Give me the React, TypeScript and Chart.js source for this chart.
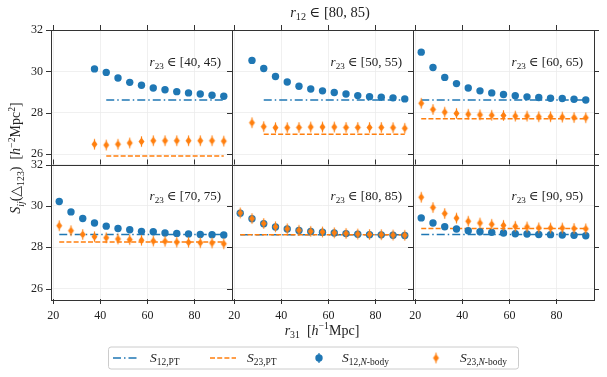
import { useEffect, useRef } from "react";
import { Chart, registerables } from "chart.js";

Chart.register(...registerables);

// ---------- data ----------
const r31Bins = [22.5, 27.5, 32.5, 37.5, 42.5, 47.5, 52.5, 57.5, 62.5, 67.5, 72.5, 77.5, 82.5, 87.5, 92.5];
const xTicks = [20, 40, 60, 80];
const yTicks = [26, 28, 30, 32];
const r12Bin = "[80, 85)";
const r23Bins = ["[40, 45)", "[50, 55)", "[60, 65)", "[70, 75)", "[80, 85)", "[90, 95)"];

const s12Nbody_40 = [30.12, 29.95, 29.68, 29.47, 29.33, 29.2, 29.11, 29.02, 28.96, 28.91, 28.85, 28.8];
const s23Nbody_40 = [26.48, 26.44, 26.48, 26.54, 26.61, 26.65, 26.65, 26.65, 26.65, 26.65, 26.65, 26.63];
const s12Nbody_50 = [30.53, 30.14, 29.75, 29.49, 29.28, 29.15, 29.06, 28.98, 28.91, 28.83, 28.78, 28.75, 28.72, 28.67];
const s23Nbody_50 = [27.52, 27.33, 27.28, 27.28, 27.29, 27.31, 27.31, 27.31, 27.29, 27.29, 27.29, 27.29, 27.28, 27.25];
const s12Nbody_60 = [30.93, 30.19, 29.71, 29.41, 29.2, 29.06, 28.96, 28.88, 28.82, 28.77, 28.74, 28.7, 28.69, 28.65, 28.62];
const s23Nbody_60 = [28.46, 28.16, 28.03, 27.97, 27.93, 27.9, 27.88, 27.87, 27.84, 27.84, 27.81, 27.81, 27.79, 27.77, 27.76];
const s12Nbody_70 = [30.21, 29.71, 29.39, 29.17, 29.02, 28.91, 28.85, 28.77, 28.75, 28.69, 28.67, 28.64, 28.62, 28.61, 28.59];
const s23Nbody_70 = [29.04, 28.8, 28.62, 28.51, 28.46, 28.4, 28.37, 28.34, 28.3, 28.29, 28.25, 28.24, 28.22, 28.21, 28.17];
const s12Nbody_80 = [29.65, 29.38, 29.14, 28.98, 28.88, 28.81, 28.76, 28.73, 28.69, 28.66, 28.63, 28.61, 28.6, 28.58, 28.57];
const s23Nbody_80 = [29.66, 29.39, 29.15, 28.99, 28.89, 28.82, 28.77, 28.74, 28.7, 28.67, 28.64, 28.62, 28.61, 28.59, 28.58];
const s12Nbody_90 = [29.42, 29.17, 28.99, 28.88, 28.8, 28.75, 28.72, 28.69, 28.65, 28.64, 28.62, 28.61, 28.59, 28.58, 28.56];
const s23Nbody_90 = [30.42, 29.92, 29.63, 29.41, 29.26, 29.17, 29.11, 29.06, 29.01, 28.98, 28.94, 28.93, 28.93, 28.91, 28.89];

const s12PT = [28.62, 28.62, 28.62, 28.62, 28.61, 28.62];
const s23PT = [25.91, 26.96, 27.71, 28.25, 28.61, 28.91];
const ptStart = [42.5, 32.5, 22.5, 22.5, 22.5, 22.5];

const s12Nbody = [s12Nbody_40, s12Nbody_50, s12Nbody_60, s12Nbody_70, s12Nbody_80, s12Nbody_90];
const s23Nbody = [s23Nbody_40, s23Nbody_50, s23Nbody_60, s23Nbody_70, s23Nbody_80, s23Nbody_90];

// ---------- style ----------
const BLUE = "#1f77b4";
const ORANGE = "#ff7f0e";
const FRAME = "#333333";
const FAM = "'Liberation Serif', 'DejaVu Serif', serif";
const DASHDOT = [8, 3, 1.5, 3];
const DASHED = [5, 2.2];

type Seg = { t: string; i?: boolean; s?: "sub" | "sup" };

function drawRich(ctx: CanvasRenderingContext2D, segs: Seg[], x: number, y: number, size: number, align: "left" | "center" | "right") {
  const small = size * 0.7;
  const fontOf = (sg: Seg) => `${sg.i ? "italic " : ""}${sg.s ? small : size}px ${FAM}`;
  let w = 0;
  for (const sg of segs) {
    ctx.font = fontOf(sg);
    w += ctx.measureText(sg.t).width;
  }
  let cx = align === "left" ? x : align === "center" ? x - w / 2 : x - w;
  ctx.textAlign = "left";
  ctx.textBaseline = "alphabetic";
  for (const sg of segs) {
    ctx.font = fontOf(sg);
    const dy = sg.s === "sub" ? size * 0.25 : sg.s === "sup" ? -size * 0.38 : 0;
    ctx.fillText(sg.t, cx, y + dy);
    cx += ctx.measureText(sg.t).width;
  }
}

function makeDiamond(): HTMLCanvasElement {
  const c = document.createElement("canvas");
  c.width = 9;
  c.height = 13;
  const g = c.getContext("2d")!;
  const cx = 4.5, cy = 6.5;
  g.strokeStyle = ORANGE;
  g.lineWidth = 1.2;
  g.beginPath();
  g.moveTo(cx, cy - 5.2);
  g.lineTo(cx, cy + 5.2);
  g.stroke();
  g.fillStyle = ORANGE;
  g.beginPath();
  g.moveTo(cx, cy - 4.1);
  g.lineTo(cx + 3, cy);
  g.lineTo(cx, cy + 4.1);
  g.lineTo(cx - 3, cy);
  g.closePath();
  g.fill();
  return c;
}

const panelLabel = (p: number): Seg[] => [
  { t: "r", i: true },
  { t: "23", s: "sub" },
  { t: " \u2208 " + r23Bins[p] },
];

const decorPlugin = {
  id: "decor",
  afterDraw(chart: any) {
    const ctx: CanvasRenderingContext2D = chart.ctx;
    const cols = [chart.scales.x0, chart.scales.x1, chart.scales.x2];
    const rows = [chart.scales.yt, chart.scales.yb];
    const TL = 5;
    ctx.save();
    ctx.strokeStyle = FRAME;
    ctx.lineWidth = 1;
    rows.forEach((ys: any, r: number) => {
      cols.forEach((xs: any, c: number) => {
        const L = xs.left, R = xs.right, T = ys.top, B = ys.bottom;
        ctx.strokeRect(Math.round(L) + 0.5, Math.round(T) + 0.5, Math.round(R - L), Math.round(B - T));
        ctx.beginPath();
        for (const v of xTicks) {
          const px = Math.round(xs.getPixelForValue(v)) + 0.5;
          ctx.moveTo(px, T);
          ctx.lineTo(px, T - TL);
          if (r === 1) {
            ctx.moveTo(px, B);
            ctx.lineTo(px, B + TL);
          }
        }
        for (const v of yTicks) {
          const py = Math.round(ys.getPixelForValue(v)) + 0.5;
          ctx.moveTo(L, py);
          ctx.lineTo(L - TL, py);
          if (c === 2) {
            ctx.moveTo(R, py);
            ctx.lineTo(R + TL, py);
          }
        }
        ctx.stroke();
        ctx.fillStyle = "#222";
        drawRich(ctx, panelLabel(r * 3 + c), R - 11, T + 35.5, 13, "right");
      });
    });

    ctx.fillStyle = "#222";
    // suptitle
    drawRich(ctx, [{ t: "r", i: true }, { t: "12", s: "sub" }, { t: " \u2208 " + r12Bin }], 330, 16.5, 14.5, "center");
    // x title
    drawRich(ctx, [{ t: "r", i: true }, { t: "31", s: "sub" }, { t: "  [" }, { t: "h", i: true }, { t: "\u22121", s: "sup" }, { t: "Mpc]" }], 322, 334.5, 14, "center");
    // y title
    ctx.save();
    ctx.translate(20, 158);
    ctx.rotate(-Math.PI / 2);
    drawRich(ctx, [
      { t: "S", i: true }, { t: "ij", i: true, s: "sub" }, { t: "(\u25B3" }, { t: "123", s: "sub" }, { t: ")  [" },
      { t: "h", i: true }, { t: "\u22122", s: "sup" }, { t: "Mpc" }, { t: "2", s: "sup" }, { t: "]" },
    ], 0, 0, 14, "center");
    ctx.restore();

    // legend
    const lx = 108.5, ly = 347, lw = 410, lh = 22;
    ctx.fillStyle = "#fff";
    ctx.strokeStyle = "#cccccc";
    ctx.lineWidth = 1;
    ctx.beginPath();
    (ctx as any).roundRect ? (ctx as any).roundRect(lx, ly, lw, lh, 2.5) : ctx.rect(lx, ly, lw, lh);
    ctx.fill();
    ctx.stroke();
    const my = 358;
    ctx.lineWidth = 1.5;
    ctx.strokeStyle = BLUE;
    ctx.setLineDash(DASHDOT);
    ctx.beginPath(); ctx.moveTo(113, my); ctx.lineTo(138, my); ctx.stroke();
    ctx.strokeStyle = ORANGE;
    ctx.setLineDash(DASHED);
    ctx.beginPath(); ctx.moveTo(210, my); ctx.lineTo(236, my); ctx.stroke();
    ctx.setLineDash([]);
    ctx.strokeStyle = BLUE;
    ctx.lineWidth = 1.2;
    ctx.beginPath(); ctx.moveTo(319, my - 5); ctx.lineTo(319, my + 5); ctx.stroke();
    ctx.fillStyle = BLUE;
    ctx.beginPath(); ctx.arc(319, my, 3.7, 0, Math.PI * 2); ctx.fill();
    ctx.drawImage(diamondImg, 436 - 4.5, my - 6.5);
    ctx.fillStyle = "#222";
    const lb = my + 4;
    drawRich(ctx, [{ t: "S", i: true }, { t: "12,PT", s: "sub" }], 150, lb, 13.5, "left");
    drawRich(ctx, [{ t: "S", i: true }, { t: "23,PT", s: "sub" }], 247, lb, 13.5, "left");
    drawRich(ctx, [{ t: "S", i: true }, { t: "12,", s: "sub" }, { t: "N", i: true, s: "sub" }, { t: "-body", s: "sub" }], 342, lb, 13.5, "left");
    drawRich(ctx, [{ t: "S", i: true }, { t: "23,", s: "sub" }, { t: "N", i: true, s: "sub" }, { t: "-body", s: "sub" }], 460, lb, 13.5, "left");
    ctx.restore();
  },
};

let diamondImg: HTMLCanvasElement;

function xScale() {
  return {
    type: "linear",
    position: "bottom",
    stack: "cols",
    min: 19,
    max: 96,
    afterBuildTicks: (s: any) => { s.ticks = xTicks.map((v) => ({ value: v })); },
    afterFit: (s: any) => { s.height = 78; },
    grid: { color: "#ececec", lineWidth: 0.8, drawTicks: false, tickLength: 0 },
    border: { display: false },
    ticks: { padding: 10, autoSkip: false, maxRotation: 0, color: "#222", font: { family: FAM, size: 12 } },
  };
}

function yScale(weight: number) {
  return {
    type: "linear",
    position: "left",
    stack: "rows",
    weight,
    min: 25.5,
    max: 32,
    afterBuildTicks: (s: any) => { s.ticks = yTicks.map((v) => ({ value: v })); },
    afterFit: (s: any) => { s.width = 51; },
    grid: { color: "#ececec", lineWidth: 0.8, drawTicks: false, tickLength: 0 },
    border: { display: false },
    ticks: { padding: 8, autoSkip: false, color: "#222", font: { family: FAM, size: 12 } },
  };
}

export default function App() {
  const ref = useRef<HTMLCanvasElement>(null);
  useEffect(() => {
    diamondImg = makeDiamond();
    const datasets: any[] = [];
    for (let p = 0; p < 6; p++) {
      const xId = "x" + (p % 3);
      const yId = p < 3 ? "yt" : "yb";
      const xs = r31Bins.slice(r31Bins.length - s12Nbody[p].length);
      const lastX = r31Bins[r31Bins.length - 1];
      datasets.push({
        label: "S23,N-body",
        data: xs.map((x, i) => ({ x, y: s23Nbody[p][i] })),
        xAxisID: xId, yAxisID: yId,
        pointStyle: diamondImg, pointRadius: 5, showLine: false, order: 0,
      });
      datasets.push({
        label: "S12,N-body",
        data: xs.map((x, i) => ({ x, y: s12Nbody[p][i] })),
        xAxisID: xId, yAxisID: yId,
        pointStyle: "circle", pointRadius: 3.7, pointBorderWidth: 0,
        backgroundColor: BLUE, borderColor: BLUE, showLine: false, order: 1,
      });
      datasets.push({
        label: "S12,PT",
        data: [{ x: ptStart[p], y: s12PT[p] }, { x: lastX, y: s12PT[p] }],
        xAxisID: xId, yAxisID: yId,
        showLine: true, pointRadius: 0, borderColor: BLUE, borderWidth: 1.5, borderDash: DASHDOT, order: 3,
      });
      datasets.push({
        label: "S23,PT",
        data: [{ x: ptStart[p], y: s23PT[p] }, { x: lastX, y: s23PT[p] }],
        xAxisID: xId, yAxisID: yId,
        showLine: true, pointRadius: 0, borderColor: ORANGE, borderWidth: 1.5, borderDash: DASHED, order: 2,
      });
    }
    const chart = new Chart(ref.current!, {
      type: "scatter",
      data: { datasets },
      options: {
        animation: false,
        responsive: false,
        events: [],
        layout: { padding: { left: 0, right: 13, top: 30, bottom: 0 } },
        plugins: { legend: { display: false }, title: { display: false }, tooltip: { enabled: false } },
        scales: {
          x0: xScale(),
          x1: xScale(),
          x2: xScale(),
          yt: yScale(1),
          yb: yScale(0),
        } as any,
      },
      plugins: [decorPlugin],
    } as any);
    return () => chart.destroy();
  }, []);
  return (
    <div style={{ position: "fixed", left: 0, top: 0, width: 607, height: 377, background: "#fff" }}>
      <canvas ref={ref} width={607} height={377} style={{ display: "block", width: 607, height: 377 }} />
    </div>
  );
}
